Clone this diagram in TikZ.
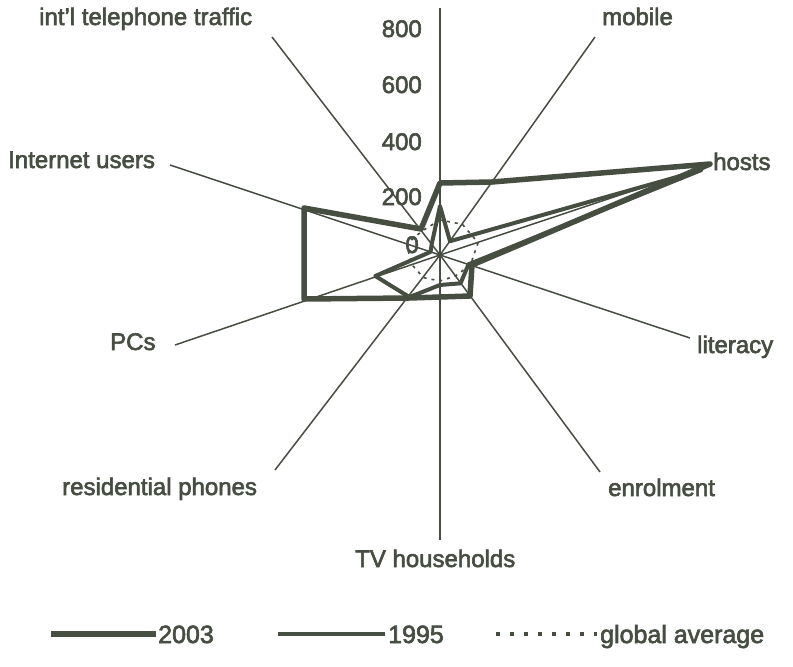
\documentclass[tikz,border=0pt]{standalone}
\usepackage{fontspec}
\setmainfont{Liberation Sans}[BoldFont={Liberation Sans}, BoldFeatures={FakeBold=2.5}]
\usetikzlibrary{calc}
\definecolor{ink}{RGB}{70,78,66}
\begin{document}
\begin{tikzpicture}[x=1pt,y=-1pt,
  lbl/.style={text=ink, font=\fontsize{24}{28}\selectfont\bfseries, inner sep=0pt},
  leglbl/.style={text=ink, font=\fontsize{25}{28}\selectfont\bfseries, inner sep=0pt},
  spoke/.style={draw=ink, line width=1.5pt},
  axisline/.style={draw=ink, line width=2pt},
  ydrei/.style={draw=ink, line width=5.5pt, line join=round},
  yfuenf/.style={draw=ink, line width=4pt, line join=round},
  gavg/.style={draw=ink, line width=1.6pt, dash pattern=on 3pt off 5pt}]
\useasboundingbox (0,0) rectangle (793,667);
\fill[white] (0,0) rectangle (793,667);
% centre and spoke ends
\coordinate (c) at (440,255);
\coordinate (eTop) at (440,8);
\coordinate (eInt) at (272,37);
\coordinate (eMob) at (595,37);
\coordinate (eHos) at (710,165);
\coordinate (eLit) at (690,338);
\coordinate (eEnr) at (600,472);
\coordinate (eTV) at (440,540);
\coordinate (eRes) at (275,470);
\coordinate (ePCs) at (175,345);
\coordinate (eNet) at (170,165);
% spokes
\draw[axisline] (c) -- (eTop);
\draw[axisline] (c) -- (eTV);
\foreach \e in {eInt,eMob,eHos,eLit,eEnr,eRes,ePCs,eNet}
  \draw[spoke] (c) -- (\e);
% global average
\draw[gavg] ($(c)+(-90:35)$) -- ($(c)+(-126:30)$) -- ($(c)+(-162:35)$)
  -- ($(c)+(-198:30)$) -- ($(c)+(-234:28)$) -- ($(c)+(-270:26)$)
  -- ($(c)+(-306:26)$) -- ($(c)+(-342:32)$) -- ($(c)+(-18:40)$)
  -- ($(c)+(-54:38)$) -- cycle;
% 1995
\draw[yfuenf] (440,206) -- (431.8,243.7) -- (430.5,251.9) -- (375.3,276)
  -- (409.4,297.1) -- (440,285) -- (460.6,283.3) -- (468.5,264.3)
  -- (701.5,170) -- (450,241.2) -- cycle;
% 2003
\draw[ydrei] (440,183) -- (421,229) -- (304,208) -- (304,299) -- (409,298)
  -- (440,297) -- (470,296) -- (472,265) -- (710,164) -- (492,182) -- cycle;
% scale labels
\node[lbl, anchor=base east] (s800) at (422,37) {800};
\node[lbl, anchor=base east] (s600) at (422,93) {600};
\node[lbl, anchor=base east] (s400) at (422,150) {400};
\node[lbl, anchor=base east] (s200) at (422,205) {200};
\node[lbl, anchor=base east] (s0) at (419,253) {0};
% axis labels
\node[lbl, anchor=base west] (lInt) at (39,25) {int'l telephone traffic};
\node[lbl, anchor=base west] (lMob) at (602,25) {mobile};
\node[lbl, anchor=base west] (lHos) at (713,170) {hosts};
\node[lbl, anchor=base west] (lLit) at (697,353) {literacy};
\node[lbl, anchor=base west] (lEnr) at (608,496) {enrolment};
\node[lbl, anchor=base west] (lTV) at (355,567) {TV households};
\node[lbl, anchor=base west] (lRes) at (62,495) {residential phones};
\node[lbl, anchor=base west] (lPCs) at (110,350) {PCs};
\node[lbl, anchor=base west] (lNet) at (8,168) {Internet users};
% legend
\coordinate (a1) at (51,634); \coordinate (a2) at (156,634);
\coordinate (b1) at (278,634); \coordinate (b2) at (385,634);
\coordinate (d1) at (496,634); \coordinate (d2) at (597,634);
\draw[draw=ink, line width=6pt] (a1) -- (a2);
\draw[draw=ink, line width=4pt] (b1) -- (b2);
\draw[draw=ink, line width=3.5pt, dash pattern=on 4pt off 10pt] (d1) -- (d2);
\node[leglbl, anchor=base west] (k1) at (158,643) {2003};
\node[leglbl, anchor=base west] (k2) at (388,643) {1995};
\node[leglbl, anchor=base west] (k3) at (600,643) {global average};
\end{tikzpicture}
\end{document}
